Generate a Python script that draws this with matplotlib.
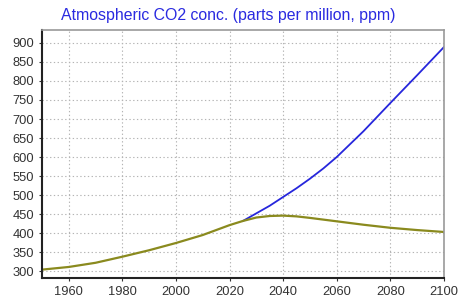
import matplotlib
matplotlib.use("Agg")
import matplotlib.pyplot as plt

plt.rcParams['font.family'] = ['Liberation Sans', 'DejaVu Sans']

years_hist = [1950, 1960, 1970, 1980, 1990, 2000, 2010, 2020, 2025, 2030, 2035, 2040, 2045, 2050, 2060, 2070, 2080, 2090, 2100]
co2_low = [304, 311, 322, 338, 355, 374, 395, 421, 432, 441, 445, 446, 444, 440, 431, 422, 414, 408, 403]
years_high = [2025, 2030, 2035, 2040, 2045, 2050, 2055, 2060, 2070, 2080, 2090, 2100]
co2_high = [432, 452, 472, 495, 518, 543, 570, 600, 668, 742, 815, 889]

xticks = [1960, 1980, 2000, 2020, 2040, 2060, 2080, 2100]
yticks = list(range(300, 901, 50))

fig = plt.figure(figsize=(4.6, 2.97), dpi=100)
ax = fig.add_axes([0.0913, 0.064, 0.8737, 0.835])
ax.plot(years_high, co2_high, color='#2626dc', lw=1.3)
ax.plot(years_hist, co2_low, color='#8a8a1e', lw=1.6)
ax.set_xlim(1950, 2100)
ax.set_ylim(282, 934)
ax.set_xticks(xticks)
ax.set_yticks(yticks)
ax.grid(True, color='#b4b4b4', ls=(0, (1.2, 2.2)), lw=0.8)
ax.tick_params(labelsize=9.3, colors='#333333', length=2)
for s in ['left', 'bottom']:
    ax.spines[s].set_color('#222222')
    ax.spines[s].set_linewidth(1.5)
for s in ['top', 'right']:
    ax.spines[s].set_color('#999999')
    ax.spines[s].set_linewidth(1.2)
fig.text(0.497, 0.947, 'Atmospheric CO2 conc. (parts per million, ppm)', color='#2a2ae0',
         fontsize=11.4, ha='center', va='center')
fig.savefig('out.png', dpi=100)
